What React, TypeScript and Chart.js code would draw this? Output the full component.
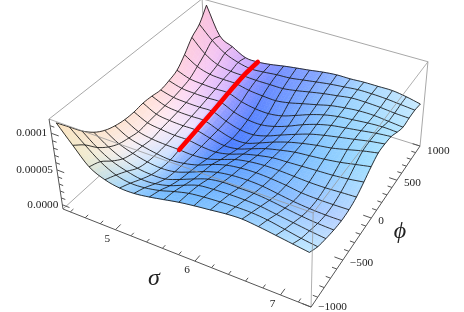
import React, { useEffect, useRef } from "react";
import { Chart, registerables } from "chart.js";

Chart.register(...registerables);

const sigmaGrid = [4.39, 4.57, 4.75, 4.94, 5.12, 5.3, 5.49, 5.67, 5.85, 6.03, 6.22, 6.4, 6.58, 6.76, 6.95, 7.13, 7.31];
const phiGrid = [-1000, -877, -754, -630, -507, -384, -261, -138, -15, 108, 231, 354, 477, 600, 724, 847, 970];
// surface height in units of 1e-5; rows follow phiGrid, columns follow sigmaGrid
const surfaceRows = [
  [11.7, 9.4, 7.2, 6.2, 5.8, 5.8, 6.1, 6.5, 6.9, 7.2, 7.45, 7.7, 7.8, 7.6, 7.3, 7.0, 6.7],
  [9.95, 8.2, 6.6, 5.5, 5.1, 5.2, 5.6, 6.2, 6.7, 6.95, 7.1, 7.2, 7.2, 7.0, 6.6, 6.2, 5.9],
  [8.2, 6.6, 5.4, 4.7, 4.3, 4.4, 4.9, 5.7, 6.4, 6.6, 6.7, 6.7, 6.6, 6.3, 6.0, 5.7, 5.45],
  [6.8, 5.4, 4.4, 3.8, 3.6, 3.7, 4.4, 5.2, 5.9, 6.2, 6.2, 6.2, 6.0, 5.7, 5.4, 5.2, 5.1],
  [5.85, 4.6, 3.9, 3.4, 3.2, 3.4, 4.1, 4.9, 5.5, 5.8, 5.9, 5.8, 5.5, 5.2, 5.0, 4.9, 4.9],
  [5.3, 4.2, 3.7, 3.3, 3.1, 3.3, 3.8, 4.6, 5.2, 5.5, 5.6, 5.5, 5.3, 5.0, 4.9, 4.9, 4.95],
  [5.0, 3.9, 3.5, 3.35, 3.3, 3.2, 3.4, 4.0, 4.7, 5.1, 5.3, 5.3, 5.2, 5.1, 5.1, 5.2, 5.3],
  [4.95, 4.0, 3.7, 3.5, 3.5, 3.2, 3.1, 3.5, 4.2, 4.7, 5.1, 5.2, 5.3, 5.4, 5.5, 5.7, 6.0],
  [5.1, 4.1, 3.8, 3.7, 3.7, 3.2, 2.8, 3.0, 3.7, 4.4, 4.9, 5.3, 5.5, 5.7, 6.0, 6.4, 6.8],
  [5.0, 4.2, 3.95, 3.9, 3.9, 3.2, 2.6, 2.6, 3.3, 4.1, 4.8, 5.3, 5.7, 6.0, 6.5, 7.0, 7.4],
  [4.8, 4.3, 4.15, 4.1, 4.1, 3.3, 2.7, 2.6, 3.1, 3.9, 4.7, 5.4, 5.9, 6.3, 6.7, 7.1, 7.4],
  [5.1, 4.55, 4.4, 4.35, 4.35, 3.5, 3.0, 2.9, 3.3, 4.0, 4.9, 5.6, 6.1, 6.4, 6.7, 7.0, 7.2],
  [5.6, 4.9, 4.7, 4.6, 4.6, 3.9, 3.5, 3.4, 3.7, 4.4, 5.2, 5.8, 6.2, 6.4, 6.6, 6.7, 6.6],
  [6.9, 5.7, 5.1, 4.95, 4.9, 4.5, 4.3, 4.2, 4.5, 5.0, 5.5, 6.0, 6.3, 6.5, 6.5, 6.3, 6.1],
  [8.5, 6.6, 5.5, 5.1, 5.0, 4.9, 4.9, 4.9, 5.2, 5.6, 6.0, 6.3, 6.6, 6.6, 6.5, 6.3, 6.2],
  [9.5, 7.6, 6.2, 5.4, 5.0, 5.1, 5.3, 5.4, 5.7, 6.0, 6.3, 6.5, 6.7, 6.7, 6.6, 6.4, 6.2],
  [11.4, 7.3, 6.2, 5.1, 5.0, 5.2, 5.56, 5.84, 6.1, 6.4, 6.6, 6.6, 6.7, 6.7, 6.7, 6.4, 5.95],
];
const redSigma = 5.12;
const redPhi = [-261, -15, 231, 477, 724, 970];
const redHeight = [3.3, 3.7, 4.1, 4.6, 5.0, 5.0];
const sigmaTicks = [5, 6, 7];
const sigmaMinor = [4.4, 4.6, 4.8, 5.2, 5.4, 5.6, 5.8, 6.2, 6.4, 6.6, 6.8, 7.2];
const phiTicks = [-1000, -500, 0, 500, 1000];
const phiLabelShift = [0, 3, 3, 3, 5];
const phiMinor = [-900, -800, -700, -600, -400, -300, -200, -100, 100, 200, 300, 400, 600, 700, 800, 900];
const heightTicks = [0, 5, 10];
const heightMinor = [1, 2, 3, 4, 6, 7, 8, 9, 11];
const heightLabels = ["0.0000", "0.00005", "0.0001"];

// Shading of the surface as seen in the picture: rows follow shadeP, columns follow shadeS
const shadeS = [0, 0.12, 0.25, 0.3, 0.4, 0.55, 0.75, 1];
const shadeP = [0, 0.25, 0.5, 0.75, 1];
const shadeRows = [
  [[255, 225, 190], [240, 235, 205], [175, 218, 245], [160, 210, 250], [125, 192, 255], [120, 190, 255], [150, 205, 255], [195, 235, 255]],
  [[255, 225, 195], [245, 240, 245], [190, 225, 255], [150, 195, 255], [100, 170, 255], [100, 165, 255], [130, 185, 255], [190, 212, 255]],
  [[255, 222, 205], [255, 235, 242], [238, 225, 255], [150, 165, 255], [75, 125, 255], [85, 145, 255], [130, 195, 255], [165, 225, 255]],
  [[255, 210, 215], [250, 208, 245], [215, 185, 255], [145, 150, 255], [95, 135, 255], [115, 165, 255], [150, 210, 255], [180, 230, 255]],
  [[255, 195, 215], [240, 190, 240], [195, 165, 255], [150, 150, 255], [125, 150, 255], [135, 165, 255], [170, 215, 255], [205, 235, 255]],
];
function bracket(axis: number[], v: number) {
  let k = 0;
  while (k < axis.length - 2 && v > axis[k + 1]) k++;
  const t = Math.min(1, Math.max(0, (v - axis[k]) / (axis[k + 1] - axis[k])));
  return [k, t];
}
function shadeAt(s: number, p: number) {
  const [a, ta] = bracket(shadeS, s);
  const [b, tb] = bracket(shadeP, p);
  const rgb = [0, 1, 2].map((c) => {
    const lo = shadeRows[b][a][c] * (1 - ta) + shadeRows[b][a + 1][c] * ta;
    const hi = shadeRows[b + 1][a][c] * (1 - ta) + shadeRows[b + 1][a + 1][c] * ta;
    return Math.round(lo * (1 - tb) + hi * tb);
  });
  return `rgb(${rgb[0]},${rgb[1]},${rgb[2]})`;
}

// Camera of the box
const toS = (sigma: number) => (sigma - 4.3) / 3.04;
const toP = (phi: number) => (phi + 1000) / 2000;
const toZ = (h: number) => 0.05 + h * 0.08;
function project(s: number, p: number, z: number) {
  const w = 1 - 0.104 * s + 0.212 * p - 0.06 * z;
  return {
    x: (63 + 215.7 * s + 186.7 * p - 16.9 * z) / w,
    y: (209 + 66.1 * s - 113.3 * p - 97.1 * z) / w,
  };
}

// Fine surface through the read values, used to draw it smoothly
const SUB = 4;
const N = (sigmaGrid.length - 1) * SUB + 1;
function cr(a: number, b: number, c: number, d: number, t: number) {
  return 0.5 * (2 * b + (c - a) * t + (2 * a - 5 * b + 4 * c - d) * t * t + (3 * b - a - 3 * c + d) * t * t * t);
}
function row(j: number, i: number): number {
  const m = surfaceRows.length - 1;
  if (j < 0) return 2 * row(0, i) - row(1, i);
  if (j > m) return 2 * row(m, i) - row(m - 1, i);
  const r = surfaceRows[j];
  if (i < 0) return 2 * r[0] - r[1];
  if (i > m) return 2 * r[m] - r[m - 1];
  return r[i];
}
function lin(arr: number[], f: number) {
  const a = Math.min(Math.floor(f), arr.length - 2);
  return arr[a] + (arr[a + 1] - arr[a]) * (f - a);
}
const fineS: number[] = [];
const fineP: number[] = [];
const fineZ: number[][] = [];
for (let k = 0; k < N; k++) {
  fineS.push(toS(lin(sigmaGrid, k / SUB)));
  fineP.push(toP(lin(phiGrid, k / SUB)));
}
for (let b = 0; b < N; b++) {
  const r: number[] = [];
  const j = Math.min(Math.floor(b / SUB), surfaceRows.length - 2);
  const tj = b / SUB - j;
  for (let a = 0; a < N; a++) {
    const i = Math.min(Math.floor(a / SUB), surfaceRows.length - 2);
    const ti = a / SUB - i;
    const col = [-1, 0, 1, 2].map((dj) =>
      cr(row(j + dj, i - 1), row(j + dj, i), row(j + dj, i + 1), row(j + dj, i + 2), ti)
    );
    r.push(toZ(cr(col[0], col[1], col[2], col[3], tj)));
  }
  fineZ.push(r);
}

const corner = (s: number, p: number, z: number) => project(s, p, z);
const gap = { x: NaN, y: NaN };
function segments(list: { x: number; y: number }[][]) {
  const out: { x: number; y: number }[] = [];
  list.forEach((seg) => out.push(...seg, gap));
  return out;
}
const backEdges = segments([
  [corner(0, 0, 0), corner(0, 1, 0)],
  [corner(0, 1, 0), corner(1, 1, 0)],
  [corner(0, 1, 0), corner(0, 1, 1)],
]);
const topBackEdges = segments([
  [corner(0, 0, 1), corner(0, 1, 1)],
  [corner(0, 1, 1), corner(1, 1, 1)],
  [corner(1, 1, 0), corner(1, 1, 1)],
]);
const frontEdges = segments([
  [corner(0, 0, 1), corner(1, 0, 1)],
  [corner(1, 0, 1), corner(1, 1, 1)],
  [corner(1, 0, 0), corner(1, 0, 1)],
]);
const sigmaAxis = segments([
  [corner(0, 0, 0), corner(1, 0, 0)],
  ...sigmaTicks.map((t) => [corner(toS(t), 0, 0), corner(toS(t), 0.032, 0)]),
  ...sigmaMinor.map((t) => [corner(toS(t), 0, 0), corner(toS(t), 0.018, 0)]),
]);
const phiAxis = segments([
  [corner(1, 0, 0), corner(1, 1, 0)],
  ...phiTicks.map((t) => [corner(1, toP(t), 0), corner(0.968, toP(t), 0)]),
  ...phiMinor.map((t) => [corner(1, toP(t), 0), corner(0.982, toP(t), 0)]),
]);
const heightAxis = segments([
  [corner(0, 0, 0), corner(0, 0, 1)],
  ...heightTicks.map((t) => [corner(0, 0, toZ(t)), corner(0.032, 0, toZ(t))]),
  ...heightMinor.map((t) => [corner(0, 0, toZ(t)), corner(0.018, 0, toZ(t))]),
]);

export default function App() {
  const ref = useRef<HTMLCanvasElement>(null);
  useEffect(() => {
    const meshDatasets: any[] = [];
    for (let j = 0; j < surfaceRows.length; j++) {
      const b = j * SUB;
      const rowPts = fineS.map((s, a) => project(s, fineP[b], fineZ[b][a]));
      const colPts = fineP.map((p, c) => project(fineS[b], p, fineZ[c][b]));
      [rowPts, colPts].forEach((data, idx) =>
        meshDatasets.push({
          label: `mesh-${idx}-${j}`,
          data,
          showLine: true,
          pointRadius: 0,
          borderColor: "rgba(25,25,25,0.88)",
          borderWidth: 1,
          order: 40,
        })
      );
    }
    const edge = (label: string, data: any[], color: string, width: number, order: number) => ({
      label,
      data,
      showLine: true,
      pointRadius: 0,
      borderColor: color,
      borderWidth: width,
      order,
      spanGaps: false,
    });
    const surfacePlugin = {
      id: "surface",
      beforeDatasetDraw(chart: any, args: any) {
        if (chart.data.datasets[args.index].label !== "surface") return;
        const { ctx, scales } = chart;
        const px = (a: number, b: number) => {
          const q = project(fineS[a], fineP[b], fineZ[b][a]);
          return [scales.x.getPixelForValue(q.x), scales.y.getPixelForValue(q.y)];
        };
        ctx.save();
        ctx.lineWidth = 0.6;
        for (let b = N - 2; b >= 0; b--) {
          for (let a = 0; a < N - 1; a++) {
            const c = shadeAt((fineS[a] + fineS[a + 1]) / 2, (fineP[b] + fineP[b + 1]) / 2);
            ctx.fillStyle = c;
            ctx.strokeStyle = c;
            ctx.beginPath();
            const q = [px(a, b), px(a + 1, b), px(a + 1, b + 1), px(a, b + 1)];
            ctx.moveTo(q[0][0], q[0][1]);
            q.slice(1).forEach((v) => ctx.lineTo(v[0], v[1]));
            ctx.closePath();
            ctx.fill();
            ctx.stroke();
          }
        }
        ctx.restore();
      },
      afterDatasetsDraw(chart: any) {
        const { ctx, scales } = chart;
        const put = (text: string, x: number, y: number, align: CanvasTextAlign) => {
          ctx.textAlign = align;
          ctx.fillText(text, scales.x.getPixelForValue(x), scales.y.getPixelForValue(y));
        };
        ctx.save();
        ctx.fillStyle = "#222";
        ctx.textBaseline = "middle";
        ctx.font = '11.3px "Liberation Serif"';
        heightTicks.forEach((t, i) => {
          const q = project(0, 0, toZ(t));
          put(heightLabels[i], q.x - 4, q.y, "right");
        });
        sigmaTicks.forEach((t) => {
          const q = project(toS(t), 0, 0);
          put(String(t), q.x - 8, q.y + 9, "center");
        });
        phiTicks.forEach((t, i) => {
          const q = project(1, toP(t), 0);
          put(t < 0 ? "\u2212" + Math.abs(t) : String(t), q.x + 7, q.y + phiLabelShift[i], "left");
        });
        ctx.font = 'italic 24px "Liberation Serif"';
        put("\u03c3", 154, 279, "center");
        put("\u03d5", 400, 232, "center");
        ctx.restore();
      },
    };
    const chart = new Chart(ref.current as HTMLCanvasElement, {
      type: "scatter",
      data: {
        datasets: [
          edge("box-back", backEdges, "#a8a8a8", 1, 90),
          edge("box-top", topBackEdges, "#a8a8a8", 1, 90),
          { label: "surface", data: [project(fineS[0], fineP[0], fineZ[0][0])], pointRadius: 0, order: 60 },
          ...meshDatasets,
          edge("box-front", frontEdges, "rgba(150,150,150,0.75)", 1, 30),
          {
            label: "red-line",
            data: redPhi.map((phi, i) => project(toS(redSigma), toP(phi), toZ(redHeight[i]))),
            showLine: true,
            pointRadius: 0,
            borderColor: "#ff0000",
            borderWidth: 4.6,
            borderCapStyle: "round",
            tension: 0.3,
            order: 20,
          },
          edge("sigma-axis", sigmaAxis, "#555", 1, 10),
          edge("phi-axis", phiAxis, "#555", 1, 10),
          edge("height-axis", heightAxis, "#555", 1, 10),
        ] as any,
      },
      options: {
        animation: false,
        responsive: false,
        devicePixelRatio: 1,
        clip: false as any,
        layout: { padding: 0 },
        plugins: { legend: { display: false }, tooltip: { enabled: false } },
        scales: {
          x: { type: "linear", display: false, min: 0, max: 464 },
          y: { type: "linear", display: false, min: 0, max: 312, reverse: true },
        },
      },
      plugins: [surfacePlugin],
    });
    return () => chart.destroy();
  }, []);
  return (
    <div style={{ position: "fixed", left: 0, top: 0, width: 464, height: 312, background: "#fff" }}>
      <canvas ref={ref} width={464} height={312} style={{ display: "block" }} />
    </div>
  );
}
